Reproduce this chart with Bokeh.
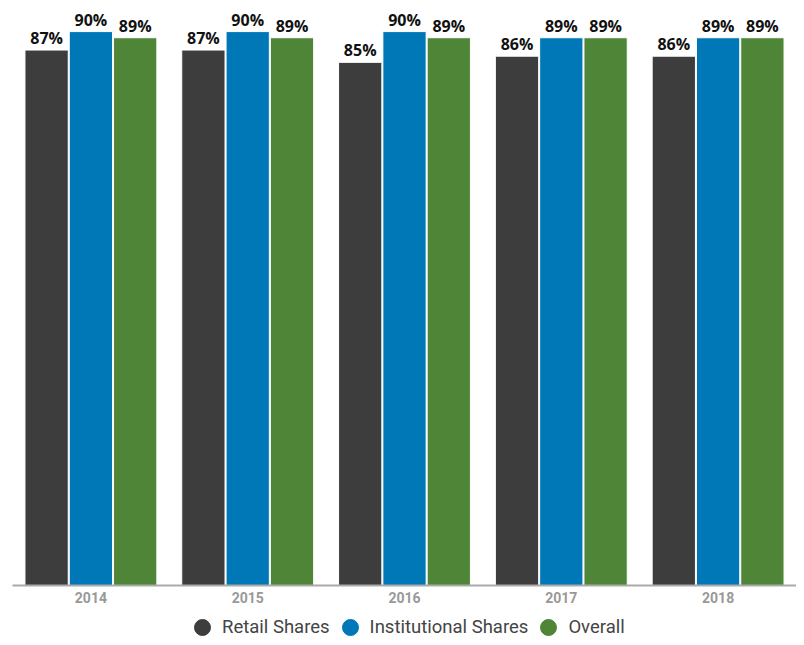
from bokeh.plotting import figure
from bokeh.layouts import column
from bokeh.models import ColumnDataSource, Legend, LegendItem, Range1d
from bokeh.transform import dodge
from bokeh.core.properties import value
from bokeh.embed import file_html
from bokeh.resources import INLINE

years = ["2014", "2015", "2016", "2017", "2018"]
retail = [87, 87, 85, 86, 86]
institutional = [90, 90, 90, 89, 89]
overall = [89, 89, 89, 89, 89]

series_names = ["Retail Shares", "Institutional Shares", "Overall"]
colors = ["#3d3d3d", "#0077b6", "#4e8536"]

src = ColumnDataSource(data=dict(
    years=years, retail=retail, institutional=institutional, overall=overall,
    retail_lbl=[f"{v}%" for v in retail],
    institutional_lbl=[f"{v}%" for v in institutional],
    overall_lbl=[f"{v}%" for v in overall],
))

p = figure(x_range=years, width=796, height=617, output_backend="svg",
           toolbar_location=None, min_border_left=12, min_border_right=0,
           min_border_top=0, min_border_bottom=32)
p.y_range = Range1d(0, 95.05)

offsets = [-0.2825, 0.0, 0.2825]
fields = ["retail", "institutional", "overall"]
for f, off, c in zip(fields, offsets, colors):
    p.vbar(x=dodge("years", off, range=p.x_range), top=f, width=0.276,
           source=src, fill_color=c, line_color="white", line_width=1)
    p.text(x=dodge("years", off, range=p.x_range), y=f, text=f + "_lbl",
           source=src, text_font=value("Open Sans"), text_font_style="bold",
           text_font_size="16px", text_color="#111111", text_align="center",
           text_baseline="bottom", y_offset=-1)

p.yaxis.visible = False
p.xgrid.grid_line_color = None
p.ygrid.grid_line_color = None
p.outline_line_color = None
p.xaxis.axis_line_color = "#aaaaaa"
p.xaxis.axis_line_width = 2
p.xaxis.major_tick_line_color = None
p.xaxis.major_tick_out = 0
p.xaxis.major_tick_in = 0
p.xaxis.minor_tick_line_color = None
p.xaxis.major_label_text_font = "Roboto"
p.xaxis.major_label_text_font_style = "bold"
p.xaxis.major_label_text_font_size = "14px"
p.xaxis.major_label_text_color = "#999999"
p.xaxis.major_label_standoff = 6

# legend strip below the chart
lf = figure(width=796, height=20, output_backend="svg", toolbar_location=None,
            min_border_left=0, min_border_right=0, min_border_top=0,
            min_border_bottom=0, x_range=Range1d(0, 1), y_range=Range1d(0, 1))
lf.axis.visible = False
lf.grid.visible = False
lf.outline_line_color = None
items = []
for name, c in zip(series_names, colors):
    d = lf.scatter(x=[-10], y=[-10], size=17, marker="circle",
                   fill_color=c, line_color=c)
    items.append(LegendItem(label=name, renderers=[d]))
legend = Legend(items=items, orientation="horizontal", location=(170, -10),
                label_text_font="Roboto", label_text_font_size="18.5px",
                label_text_color="#444444", glyph_width=40, glyph_height=40,
                label_standoff=-1, spacing=-1, border_line_color=None,
                background_fill_alpha=0, padding=0, margin=0)
lf.add_layout(legend, "center")

layout = column(p, lf, spacing=0)
open("out.html", "w").write(file_html(layout, INLINE))
